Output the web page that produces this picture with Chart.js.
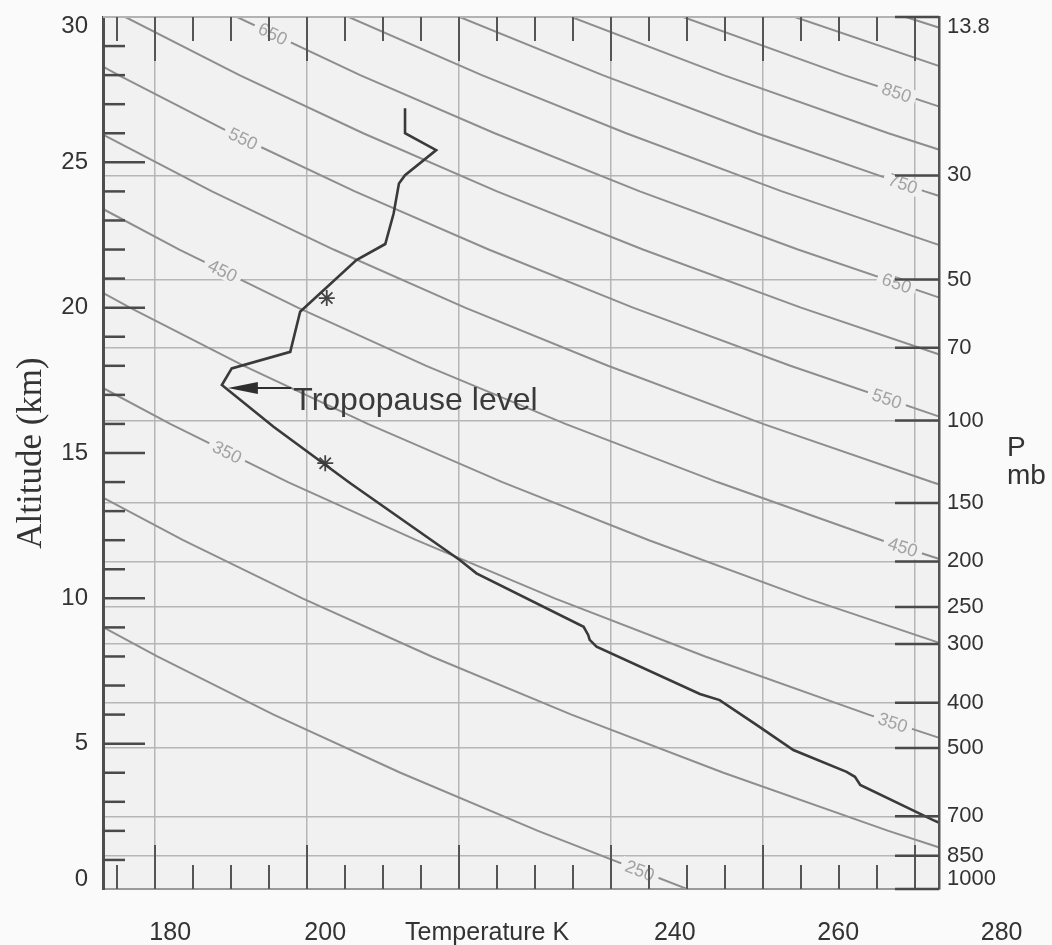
<!DOCTYPE html>
<html>
<head>
<meta charset="utf-8">
<title>Temperature sounding with isentropes</title>
<script src="https://cdn.jsdelivr.net/npm/chart.js@4.4.0/dist/chart.umd.min.js"></script>
<style>
  html, body { margin: 0; padding: 0; background: #fafafa; }
  #wrap { width: 1052px; height: 945px; }
  canvas { display: block; }
</style>
</head>
<body>
<div id="wrap"><canvas id="sounding" width="1052" height="945"></canvas></div>
<script>
// Temperature sounding (K) against altitude (km), with pressure levels (mb)
// on the right and dry isentropes labelled by potential temperature (K).

// ---- axis ranges ----
const tempRangeK = [173.16, 283.16];
const altRangeKm = [0, 30];
const tempGridK = [180, 200, 220, 240, 260, 280];

// ---- pressure levels and their altitudes ----
const pressureLabels = ['1000', '850', '700', '500', '400', '300', '250', '200', '150', '100', '70', '50', '30', '13.8'];
const pressureAltKm  = [0, 1.14, 2.50, 4.85, 6.41, 8.43, 9.70, 11.27, 13.28, 16.12, 18.62, 20.97, 24.55, 30];

// ---- bottom axis text and where it sits along the temperature scale ----
const tempLabelText = ['180', '200', 'Temperature K', '240', '260', '280'];
const tempLabelAt   = [182.0, 202.4, 223.7, 248.4, 269.9, 291.4];

// ---- sounding ----
const soundingAlt  = [2.28, 2.37, 3.58, 3.86, 4.03, 4.78, 5.64, 6.50, 6.71, 8.34, 8.57, 8.74, 9.02, 10.86, 11.32, 13.96, 15.90, 17.34, 17.91, 18.48, 19.86, 21.64, 22.19, 23.24, 24.27, 24.56, 25.42, 26.00, 26.86];
const soundingTemp = [283.2, 282.4, 272.8, 272.1, 271.0, 264.0, 259.2, 254.3, 251.7, 238.1, 237.2, 237.0, 236.4, 222.3, 220.1, 205.7, 195.6, 188.8, 190.1, 197.8, 199.1, 206.5, 210.3, 211.4, 212.1, 212.9, 217.0, 212.9, 212.9];

// asterisk markers
const markerTemp = [202.6, 202.4];
const markerAlt  = [20.33, 14.65];

// ---- isentropes: temperature (K) at each altitude step ----
const isentropeAltKm = [0, 2, 4, 6, 8, 10, 12, 14, 16, 18, 20, 22, 24, 26, 28, 30];
const theta250 = [250.0, 230.4, 212.3, 195.6, 180.3, 166.1];
const theta300 = [300.0, 276.5, 254.8, 234.8, 216.4, 199.4, 183.7, 169.3];
const theta350 = [null, null, 297.2, 273.9, 252.4, 232.6, 214.4, 197.5, 182.0, 167.7];
const theta400 = [null, null, null, null, 288.5, 265.8, 245.0, 225.7, 208.0, 191.7, 176.7, 162.8];
const theta450 = [null, null, null, null, null, 299.1, 275.6, 254.0, 234.0, 215.7, 198.8, 183.2, 168.8];
const theta500 = [null, null, null, null, null, null, 306.2, 282.2, 260.0, 239.6, 220.8, 203.5, 187.5, 172.8];
const theta550 = [null, null, null, null, null, null, null, null, 286.0, 263.6, 242.9, 223.9, 206.3, 190.1, 175.2, 161.4];
const theta600 = [null, null, null, null, null, null, null, null, null, 287.6, 265.0, 244.2, 225.0, 207.4, 191.1, 176.1];
const theta650 = [null, null, null, null, null, null, null, null, null, null, 287.1, 264.6, 243.8, 224.7, 207.0, 190.8];
const theta700 = [null, null, null, null, null, null, null, null, null, null, null, 284.9, 262.5, 242.0, 223.0, 205.5];
const theta750 = [null, null, null, null, null, null, null, null, null, null, null, 305.3, 281.3, 259.2, 238.9, 220.1];
const theta800 = [null, null, null, null, null, null, null, null, null, null, null, null, 300.1, 276.5, 254.8, 234.8];
const theta850 = [null, null, null, null, null, null, null, null, null, null, null, null, null, 293.8, 270.7, 249.5];
const theta900 = [null, null, null, null, null, null, null, null, null, null, null, null, null, null, 286.7, 264.2];
const theta950 = [null, null, null, null, null, null, null, null, null, null, null, null, null, null, 302.6, 278.8];

const isentropes = [
  [250, theta250], [300, theta300], [350, theta350], [400, theta400], [450, theta450],
  [500, theta500], [550, theta550], [600, theta600], [650, theta650], [700, theta700],
  [750, theta750], [800, theta800], [850, theta850], [900, theta900], [950, theta950]
];

// isentrope labels: which line, and the temperature where the label sits on it
const isoLabelTheta = [650, 550, 450, 350, 250, 350, 450, 550, 650, 750, 850];
const isoLabelTemp  = [195.5, 191.6, 188.9, 189.5, 243.8, 277.1, 278.4, 276.3, 277.6, 278.4, 277.6];

// tropopause note
const noteText = 'Tropopause level';
const noteTemp = 198.2;
const noteAlt = 16.48;

// ---- colours ----
const plotBg = '#f1f1f1';
const pageBg = '#fafafa';
const inkDark = '#333333';
const gridGrey = '#b6b6b6';
const isoGrey = '#8e8e8e';

Chart.defaults.font.family = '"Liberation Sans", Arial, sans-serif';

const isoIndex = {};
const isoDatasets = isentropes.map(([theta, temps], k) => {
  isoIndex[theta] = k + 2;
  return {
    label: 'θ ' + theta + ' K',
    data: temps.map((t, i) => (t === null ? null : { x: t, y: isentropeAltKm[i] })).filter(Boolean),
    showLine: true,
    borderColor: isoGrey,
    borderWidth: 2,
    pointRadius: 0,
    tension: 0
  };
});

function lineTo(ctx, x0, y0, x1, y1) {
  ctx.beginPath(); ctx.moveTo(x0, y0); ctx.lineTo(x1, y1); ctx.stroke();
}

const decorations = {
  id: 'decorations',
  beforeDraw(chart) {
    const { ctx, chartArea: a } = chart;
    ctx.save();
    ctx.fillStyle = pageBg;
    ctx.fillRect(0, 0, chart.width, chart.height);
    ctx.fillStyle = plotBg;
    ctx.fillRect(a.left, a.top, a.right - a.left, a.bottom - a.top);
    ctx.restore();
  },
  afterDatasetsDraw(chart) {
    const { ctx, scales: { x, y } } = chart;
    ctx.save();
    // isentrope labels, set along their lines with a small gap
    ctx.font = '18px "Liberation Sans", Arial, sans-serif';
    ctx.textAlign = 'center';
    ctx.textBaseline = 'middle';
    isoLabelTheta.forEach((theta, i) => {
      const pts = chart.getDatasetMeta(isoIndex[theta]).data;
      const px = x.getPixelForValue(isoLabelTemp[i]);
      for (let k = 0; k < pts.length - 1; k++) {
        const p0 = pts[k], p1 = pts[k + 1];
        if ((p0.x - px) * (p1.x - px) <= 0 && p0.x !== p1.x) {
          const f = (px - p0.x) / (p1.x - p0.x);
          const py = p0.y + f * (p1.y - p0.y);
          const ang = Math.atan2(p0.y - p1.y, p0.x - p1.x);
          const txt = String(theta);
          const w = ctx.measureText(txt).width;
          ctx.save();
          ctx.translate(px, py);
          ctx.rotate(ang);
          ctx.fillStyle = plotBg;
          ctx.fillRect(-w / 2 - 5, -8, w + 10, 16);
          ctx.fillStyle = '#a2a2a2';
          ctx.fillText(txt, 0, 1);
          ctx.restore();
          break;
        }
      }
    });

    // arrow to the tropopause (coldest point of the sounding)
    let iMin = 0;
    soundingTemp.forEach((t, i) => { if (t < soundingTemp[iMin]) iMin = i; });
    const tipX = x.getPixelForValue(soundingTemp[iMin]) + 6;
    const tipY = y.getPixelForValue(soundingAlt[iMin]) + 3;
    const textX = x.getPixelForValue(noteTemp);
    ctx.strokeStyle = '#2e2e2e';
    ctx.fillStyle = '#2e2e2e';
    ctx.lineWidth = 2;
    lineTo(ctx, tipX + 26, tipY, textX - 2, tipY);
    ctx.beginPath();
    ctx.moveTo(tipX, tipY);
    ctx.lineTo(tipX + 30, tipY - 6);
    ctx.lineTo(tipX + 30, tipY + 6);
    ctx.closePath();
    ctx.fill();
    ctx.font = '32px "Liberation Sans", Arial, sans-serif';
    ctx.textAlign = 'left';
    ctx.textBaseline = 'alphabetic';
    ctx.fillStyle = '#3a3a3a';
    ctx.fillText(noteText, textX, y.getPixelForValue(noteAlt));
    ctx.restore();
  },
  afterDraw(chart) {
    const { ctx, chartArea: a, scales: { x, y, yP } } = chart;
    ctx.save();
    // top frame line
    ctx.strokeStyle = '#b3b3b3';
    ctx.lineWidth = 2;
    lineTo(ctx, a.left, a.top, a.right, a.top);

    // temperature ticks every 5 K, longer on the 20 K grid lines (bottom and top)
    ctx.strokeStyle = '#555';
    ctx.lineWidth = 2;
    for (let t = Math.ceil(x.min / 5) * 5; t <= x.max; t += 5) {
      const px = x.getPixelForValue(t);
      const len = t % 20 === 0 ? 44 : 24;
      lineTo(ctx, px, a.bottom, px, a.bottom - len);
      lineTo(ctx, px, a.top, px, a.top + len);
    }
    // altitude ticks every km, longer every 5 km
    ctx.strokeStyle = '#4a4a4a';
    ctx.lineWidth = 2.5;
    for (let z = altRangeKm[0] + 1; z < altRangeKm[1]; z++) {
      const py = y.getPixelForValue(z);
      lineTo(ctx, a.left, py, a.left + (z % 5 === 0 ? 42 : 22), py);
    }
    // pressure ticks
    pressureAltKm.forEach(z => {
      const py = yP.getPixelForValue(z);
      lineTo(ctx, a.right - 44, py, a.right, py);
    });

    // bottom axis labels
    ctx.fillStyle = inkDark;
    ctx.font = '25px "Liberation Sans", Arial, sans-serif';
    ctx.textAlign = 'center';
    ctx.textBaseline = 'middle';
    tempLabelText.forEach((txt, i) => {
      ctx.fillText(txt, x.getPixelForValue(tempLabelAt[i]), a.bottom + 44);
    });

    // pressure unit, between the 150 and 100 mb levels
    const iLo = pressureLabels.indexOf('150'), iHi = pressureLabels.indexOf('100');
    const midY = (yP.getPixelForValue(pressureAltKm[iLo]) + yP.getPixelForValue(pressureAltKm[iHi])) / 2;
    ctx.font = '28px "Liberation Sans", Arial, sans-serif';
    ctx.textAlign = 'left';
    ctx.fillText('P', a.right + 68, midY - 13);
    ctx.fillText('mb', a.right + 68, midY + 15);
    ctx.restore();
  }
};

new Chart(document.getElementById('sounding'), {
  type: 'scatter',
  data: {
    datasets: [
      {
        label: 'Temperature',
        data: soundingTemp.map((t, i) => ({ x: t, y: soundingAlt[i] })),
        showLine: true,
        borderColor: '#3a3a3a',
        borderWidth: 2.6,
        pointRadius: 0,
        tension: 0
      },
      {
        label: 'Markers',
        data: markerTemp.map((t, i) => ({ x: t, y: markerAlt[i] })),
        showLine: false,
        pointStyle: 'star',
        pointRadius: 8,
        borderColor: '#444',
        borderWidth: 1.8
      },
      ...isoDatasets
    ]
  },
  options: {
    responsive: false,
    devicePixelRatio: 1,
    animation: false,
    events: [],
    layout: { padding: { top: 17, left: 0, right: 0, bottom: 0 }, autoPadding: false },
    plugins: { legend: { display: false }, tooltip: { enabled: false } },
    scales: {
      x: {
        type: 'linear',
        position: 'bottom',
        min: tempRangeK[0],
        max: tempRangeK[1],
        afterBuildTicks: s => { s.ticks = tempGridK.map(v => ({ value: v })); },
        ticks: { display: false },
        grid: { color: gridGrey, lineWidth: 1.5, drawTicks: false },
        border: { display: true, color: '#9a9a9a', width: 2, z: 1 },
        afterFit: s => { s.height = 56; s.paddingLeft = 0; s.paddingRight = 0; }
      },
      y: {
        type: 'linear',
        position: 'left',
        min: altRangeKm[0],
        max: altRangeKm[1],
        ticks: {
          stepSize: 5,
          autoSkip: false,
          padding: 7,
          color: inkDark,
          font: { size: 24, lineHeight: 0.8 },
          callback: v => (v === altRangeKm[1] ? ['', String(v)] : v === altRangeKm[0] ? [String(v), ''] : String(v))
        },
        grid: { display: false },
        border: { display: true, color: '#4e4e4e', width: 3, z: 1 },
        title: {
          display: true,
          text: 'Altitude (km)',
          color: inkDark,
          font: { family: '"Liberation Serif", "Times New Roman", serif', size: 35 },
          padding: { top: 11, bottom: 0 }
        },
        afterFit: s => { s.width = 103; s.paddingTop = 0; s.paddingBottom = 0; }
      },
      yP: {
        type: 'linear',
        position: 'right',
        min: altRangeKm[0],
        max: altRangeKm[1],
        afterBuildTicks: s => { s.ticks = pressureAltKm.map(v => ({ value: v })); },
        ticks: {
          autoSkip: false,
          padding: 8,
          color: inkDark,
          font: { size: 22, lineHeight: 0.9 },
          callback: (v, i) => {
            const lab = pressureLabels[i];
            if (i === pressureLabels.length - 1) return ['', lab];
            if (i === 0) return [lab, ''];
            return lab;
          }
        },
        grid: { color: gridGrey, lineWidth: 1.5, drawTicks: false },
        border: { display: true, color: '#555', width: 2.5, z: 1 },
        afterFit: s => { s.width = 113; s.paddingTop = 0; s.paddingBottom = 0; }
      }
    }
  },
  plugins: [decorations]
});
</script>
</body>
</html>
